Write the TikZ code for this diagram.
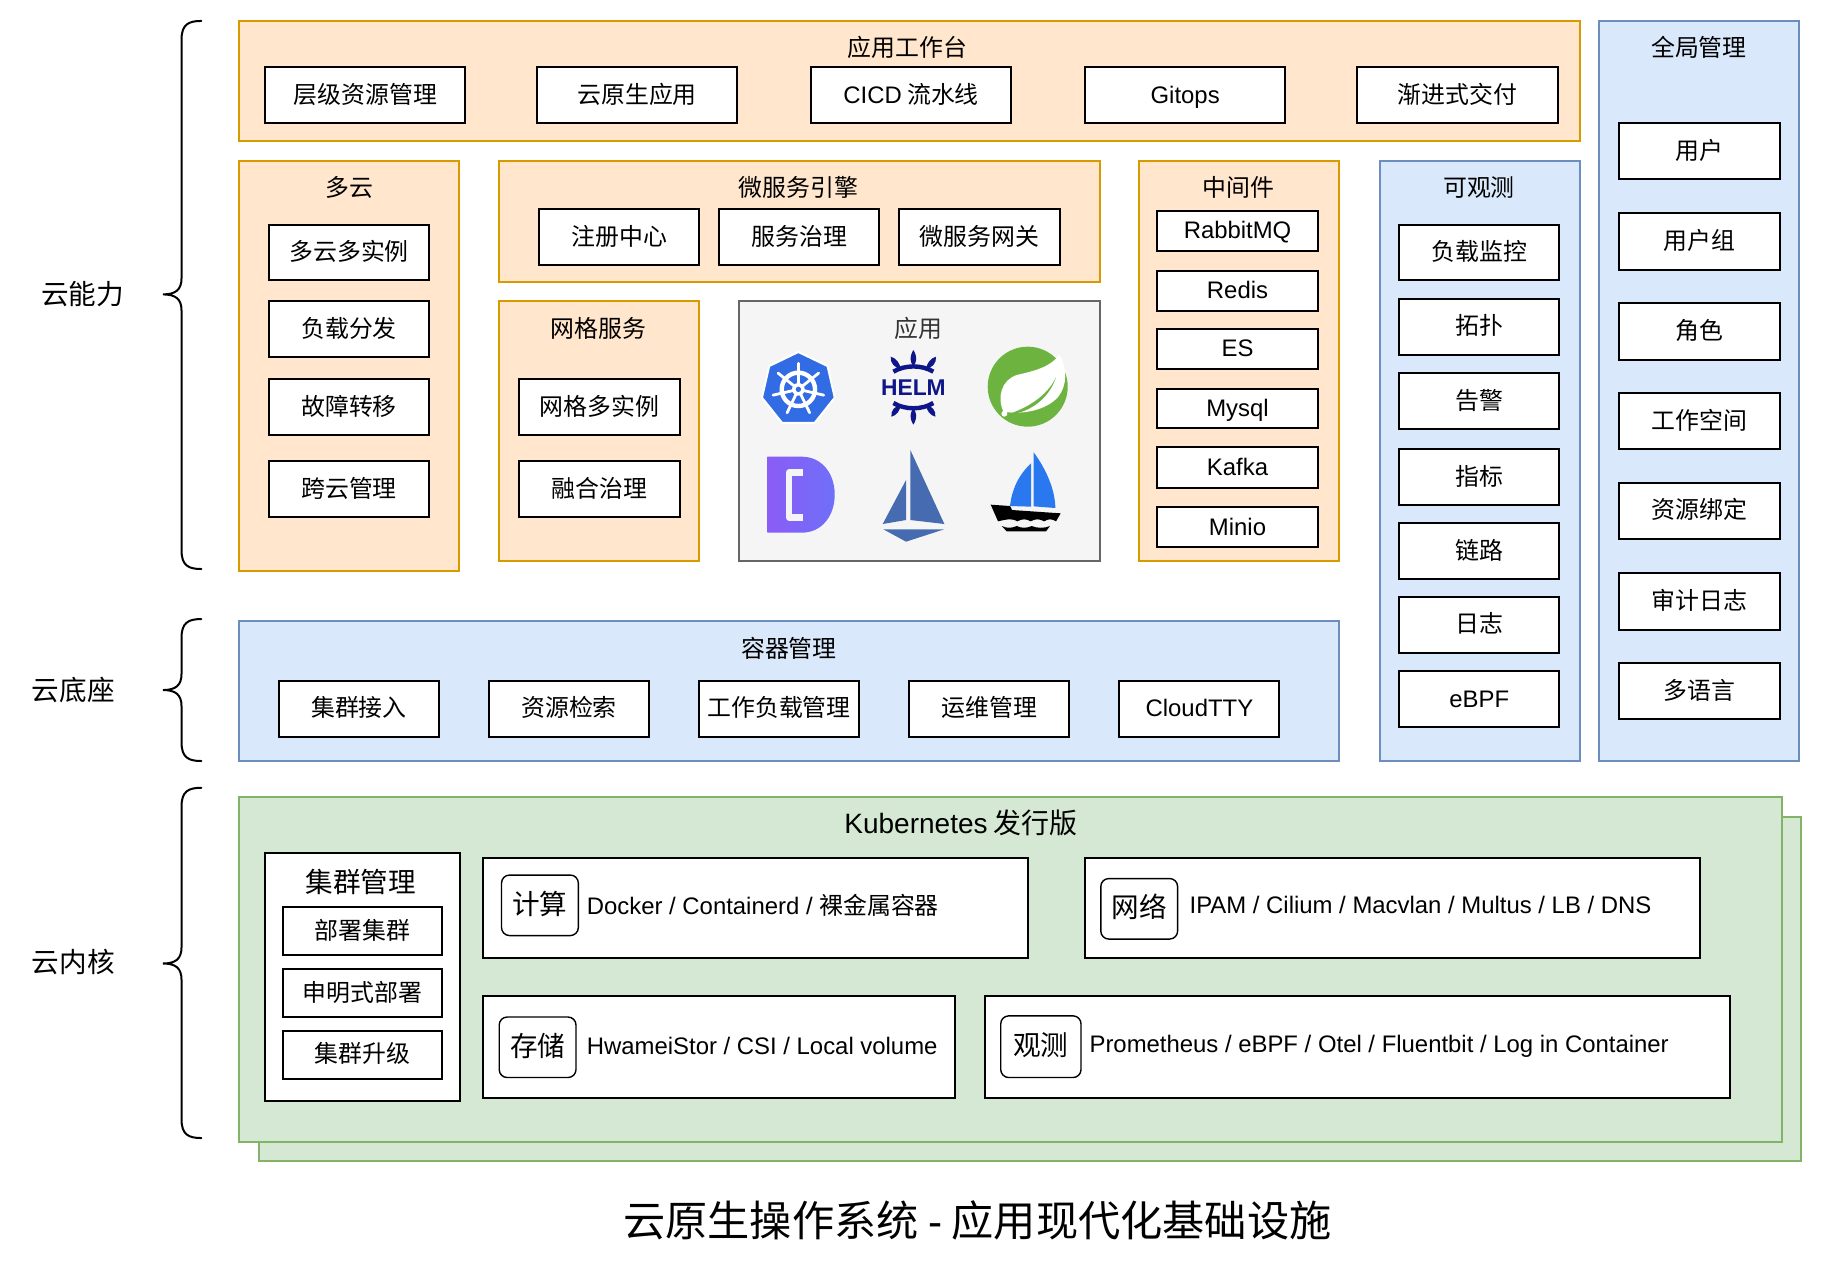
\documentclass[tikz,border=0pt]{standalone}
\usepackage{fontspec}
\setmainfont{Liberation Sans}
\newfontfamily\cjk{Noto Sans CJK SC}
\newcommand\szN{\fontsize{11.95}{14.5}\selectfont}
\newcommand\szL{\fontsize{13.8}{16.5}\selectfont}
\newcommand\szT{\fontsize{21.1}{25}\selectfont}
\definecolor{ofill}{HTML}{FFE6CC}\definecolor{ostroke}{HTML}{D79B00}
\definecolor{bfill}{HTML}{DAE8FC}\definecolor{bstroke}{HTML}{6C8EBF}
\definecolor{gfill}{HTML}{D5E8D4}\definecolor{gstroke}{HTML}{82B366}
\definecolor{agfill}{HTML}{F5F5F5}\definecolor{agstroke}{HTML}{666666}
\definecolor{k8sblue}{HTML}{326CE5}\definecolor{helmnavy}{HTML}{0F1689}
\definecolor{springgreen}{HTML}{6DB33F}\definecolor{istioblue}{HTML}{466BB0}
\definecolor{boatblue}{HTML}{2A78F0}\definecolor{dleft}{HTML}{8B5CF6}\definecolor{dright}{HTML}{6F6FF8}
\tikzset{
 orangebox/.style={draw=ostroke,fill=ofill,line width=1pt},
 bluebox/.style={draw=bstroke,fill=bfill,line width=1pt},
 greenbox/.style={draw=gstroke,fill=gfill,line width=1pt},
 graybox/.style={draw=agstroke,fill=agfill,line width=1pt},
 itembox/.style={draw=black,fill=white,line width=1pt,font=\szN\cjk,text height=10.5pt,text depth=2.5pt},
 tagbox/.style={draw=black,fill=white,line width=.7pt,rounded corners=4pt,font=\szL\cjk,text height=12pt,text depth=3pt},
 ttl/.style={inner sep=0,font=\szN\cjk},
 sidelabel/.style={inner sep=0,font=\szL\cjk},
 latlabel/.style={inner sep=0,anchor=west,font=\szN\rmfamily},
 bracepath/.style={draw=black,line width=1pt,line cap=round},
}
\newcommand\bx[7]{\node[#6,anchor=north west,inner sep=0,outer sep=0,minimum width={(#4-#2)*0.58185pt},minimum height={(#5-#3)*0.58185pt}] (#1) at (#2,#3) {#7};}
\newcommand\curly[5]{% name, top, mid, bottom
 \coordinate (#1-tip) at (140,#3);
 \draw[bracepath] (173,#2) .. controls (162,#2) and (156,#2+3) .. (156,#2+16)
   -- (156,#3-14) .. controls (156,#3-4) and (151,#3) .. (#1-tip)
   .. controls (151,#3) and (156,#3+4) .. (156,#3+14)
   -- (156,#4-16) .. controls (156,#4-3) and (162,#4) .. (173,#4);
}
\begin{document}
\begin{tikzpicture}[x=0.58185pt,y=-0.58185pt]
\useasboundingbox (0,0) rectangle (1567.5,1089.7);
\fill[white] (0,0) rectangle (1567.5,1089.7);

% Braces and side labels
\curly{bA}{18}{253}{489}{}
\curly{bB}{532}{593}{654}{}
\curly{bC}{677}{828}{978}{}
\node[sidelabel] (lA) at (71,253) {云能力};
\node[sidelabel] (lB) at (63,593) {云底座};
\node[sidelabel] (lC) at (63,827) {云内核};

% Application workbench
\bx{wb}{205}{18}{1357.5}{121}{orangebox}{}
\node[ttl] (wbT) at (780,41) {应用工作台};
\bx{wb1}{228}{58}{400}{106}{itembox}{层级资源管理}
\bx{wb2}{461.5}{58}{633.5}{106}{itembox}{云原生应用}
\bx{wb3}{697}{58}{869}{106}{itembox}{{\rmfamily CICD} 流水线}
\bx{wb4}{932.5}{58}{1104.5}{106}{itembox}{\rmfamily Gitops}
\bx{wb5}{1166.5}{58}{1338.5}{106}{itembox}{渐进式交付}

% Global management
\bx{gm}{1374.2}{18}{1546.4}{654}{bluebox}{}
\node[ttl] (gmT) at (1460,41) {全局管理};
\bx{gm1}{1391.5}{106}{1529.3}{154}{itembox}{用户}
\bx{gm2}{1391.5}{183}{1529.3}{232}{itembox}{用户组}
\bx{gm3}{1391.5}{260.5}{1529.3}{309}{itembox}{角色}
\bx{gm4}{1391.5}{338}{1529.3}{386}{itembox}{工作空间}
\bx{gm5}{1391.5}{415}{1529.3}{463}{itembox}{资源绑定}
\bx{gm6}{1391.5}{492.5}{1529.3}{541}{itembox}{审计日志}
\bx{gm7}{1391.5}{570}{1529.3}{618}{itembox}{多语言}

% Multicloud
\bx{mc}{205}{138}{394.5}{491}{orangebox}{}
\node[ttl] (mcT) at (300,161) {多云};
\bx{mc1}{231}{193}{369}{241}{itembox}{多云多实例}
\bx{mc2}{231}{259}{369}{307}{itembox}{负载分发}
\bx{mc3}{231}{326}{369}{374}{itembox}{故障转移}
\bx{mc4}{231}{396.5}{369}{444.5}{itembox}{跨云管理}

% Microservice engine
\bx{ms}{429}{138}{945}{242}{orangebox}{}
\node[ttl] (msT) at (686,161) {微服务引擎};
\bx{ms1}{463.5}{180}{601}{228}{itembox}{注册中心}
\bx{ms2}{618}{180}{755.5}{228}{itembox}{服务治理}
\bx{ms3}{772.5}{180}{910.5}{228}{itembox}{微服务网关}

% Service mesh
\bx{sm}{429}{259}{601}{482}{orangebox}{}
\node[ttl] (smT) at (514,282) {网格服务};
\bx{sm1}{446}{326}{584}{374}{itembox}{网格多实例}
\bx{sm2}{446}{396.5}{584}{444.5}{itembox}{融合治理}

% Applications
\bx{ap}{635}{259}{945}{482}{graybox}{}
\node[ttl,text={rgb,255:red,51;green,51;blue,51}] (apT) at (789,282) {应用};

% Middleware
\bx{mw}{979}{138}{1151}{482}{orangebox}{}
\node[ttl] (mwT) at (1064,161) {中间件};
\tikzset{midfont/.style={itembox,text height=8.5pt,text depth=0.5pt}}
\bx{mw1}{994.5}{181}{1132.5}{216}{midfont}{\rmfamily RabbitMQ}
\bx{mw2}{994.5}{233}{1132.5}{267}{midfont}{\rmfamily Redis}
\bx{mw3}{994.5}{282.5}{1132.5}{317}{midfont}{\rmfamily ES}
\bx{mw4}{994.5}{334}{1132.5}{368}{midfont}{\rmfamily Mysql}
\bx{mw5}{994.5}{384}{1132.5}{419}{midfont}{\rmfamily Kafka}
\bx{mw6}{994.5}{436}{1132.5}{470}{midfont}{\rmfamily Minio}

% Observability
\bx{ob}{1185.5}{138}{1357.5}{654}{bluebox}{}
\node[ttl] (obT) at (1271,161) {可观测};
\bx{ob1}{1202.5}{193}{1340}{241}{itembox}{负载监控}
\bx{ob2}{1202.5}{257}{1340}{305}{itembox}{拓扑}
\bx{ob3}{1202.5}{320.5}{1340}{369}{itembox}{告警}
\bx{ob4}{1202.5}{386}{1340}{434}{itembox}{指标}
\bx{ob5}{1202.5}{449.5}{1340}{498}{itembox}{链路}
\bx{ob6}{1202.5}{513}{1340}{561}{itembox}{日志}
\bx{ob7}{1202.5}{577}{1340}{625}{itembox}{\rmfamily eBPF}

% Container management
\bx{cm}{205}{534}{1151}{654}{bluebox}{}
\node[ttl] (cmT) at (678,557) {容器管理};
\bx{cm1}{240}{585}{377}{633}{itembox}{集群接入}
\bx{cm2}{420}{585}{558}{633}{itembox}{资源检索}
\bx{cm3}{601}{585}{738}{633}{itembox}{工作负载管理}
\bx{cm4}{781}{585}{919}{633}{itembox}{运维管理}
\bx{cm5}{962}{585}{1099.5}{633}{itembox}{\rmfamily CloudTTY}

% Kubernetes distribution
\bx{kb}{222.5}{702}{1548}{998}{greenbox}{}
\bx{kf}{205}{685}{1531}{981}{greenbox}{}
\node[ttl,font=\fontsize{14}{16}\selectfont\cjk] (kfT) at (826,707) {{\rmfamily Kubernetes} 发行版};

\bx{cl}{228}{733}{395}{946}{itembox}{}
\node[ttl,font=\szL\cjk] (clT) at (310,758) {集群管理};
\bx{cl1}{243}{779.5}{380}{821}{itembox}{部署集群}
\bx{cl2}{243}{833}{380}{874}{itembox}{申明式部署}
\bx{cl3}{243}{886}{380}{927}{itembox}{集群升级}

\bx{cp}{415}{737}{883}{823}{itembox}{}
\bx{cpT}{431}{752}{497}{804}{tagbox}{计算}
\node[latlabel] (cpL) at (504,778) {Docker / Containerd / {\cjk 裸金属容器}};
\bx{nw}{932.5}{737}{1460.5}{823}{itembox}{}
\bx{nwT}{946}{755}{1012}{807}{tagbox}{网络}
\node[latlabel] (nwL) at (1022,778) {IPAM / Cilium / Macvlan / Multus / LB / DNS};
\bx{st}{415}{856}{821}{944}{itembox}{}
\bx{stT}{429}{874}{495}{926}{tagbox}{存储}
\node[latlabel] (stL) at (504,899) {HwameiStor / CSI / Local volume};
\bx{os}{846.5}{856}{1486.5}{944}{itembox}{}
\bx{osT}{860}{873}{929}{926}{tagbox}{观测}
\node[latlabel] (osL) at (936,899) {Prometheus / eBPF / Otel / Fluentbit / Log in Container};

% Title
\node[inner sep=0,font=\szT\cjk] (title) at (840,1049) {云原生操作系统 {\rmfamily -} 应用现代化基础设施};

% Icons, in the coordinates of a 3x crop at (730,300)
\begin{scope}[shift={(730*1.1637/1.35405,300*1.1637/1.35405)},x=0.16667pt,y=-0.16667pt]
 % Kubernetes
 \begin{scope}[shift={(205,268)},y=0.16667pt]
  \fill[k8sblue,draw=white,line width=1pt,line join=round]
    (90:112) -- (38.6:112) -- (-12.9:112) -- (-64.3:112) -- (-115.7:112) -- (-167.1:112) -- (141.4:112) -- cycle;
  \draw[white,line width=2.2pt] (0,0) circle (50);
  \foreach \a in {90,38.6,-12.9,-64.3,-115.7,-167.1,141.4}
    \draw[white,line width=1.4pt,line cap=round] (\a:10) -- (\a:78);
  \fill[white] (0,0) circle (19);
  \fill[k8sblue] (0,0) circle (8);
 \end{scope}
 % Helm
 \begin{scope}[shift={(550,262)},helmnavy]
  \draw[line width=2.2pt] (-60,-47) .. controls (-25,-68) and (25,-68) .. (60,-47);
  \draw[line width=2.2pt] (-60,47) .. controls (-25,68) and (25,68) .. (60,47);
  \fill (0,-112) .. controls (13,-90) and (10,-78) .. (0,-62) .. controls (-10,-78) and (-13,-90) .. (0,-112);
  \fill (0,112) .. controls (13,90) and (10,78) .. (0,62) .. controls (-10,78) and (-13,90) .. (0,112);
  \fill (-68,-92) .. controls (-70,-72) and (-55,-58) .. (-38,-55) .. controls (-40,-72) and (-52,-88) .. (-68,-92);
  \fill (68,-92) .. controls (70,-72) and (55,-58) .. (38,-55) .. controls (40,-72) and (52,-88) .. (68,-92);
  \fill (-66,88) .. controls (-68,68) and (-55,56) .. (-38,53) .. controls (-40,70) and (-50,84) .. (-66,88);
  \fill (66,88) .. controls (68,68) and (55,56) .. (38,53) .. controls (40,70) and (50,84) .. (66,88);
  \node[inner sep=0,text=helmnavy,font=\fontsize{11.4}{12}\selectfont\rmfamily\bfseries] (helm) at (0,0) {HELM};
 \end{scope}
 % Spring
 \fill[springgreen] (893,260) circle (120);
 \fill[white] (988,163) .. controls (960,205) and (900,215) .. (860,225)
   .. controls (815,240) and (800,290) .. (820,335)
   .. controls (880,345) and (950,330) .. (985,290)
   .. controls (1012,255) and (1012,205) .. (988,163) -- cycle;
 \fill[springgreen] (828,345) .. controls (890,325) and (950,290) .. (978,232)
   .. controls (955,300) and (895,340) .. (828,345) -- cycle;
 \fill[white] (823,341) circle (9);
 % D logo
 \shade[left color=dleft,right color=dright]
   (112,470) -- (215,470) .. controls (275,470) and (314,520) .. (314,584)
   .. controls (314,648) and (275,698) .. (215,698) -- (112,698) -- cycle;
 \draw[agfill,line width=3.3pt,line join=round] (220,518) -- (177,518) -- (177,652) -- (220,652);
 % Istio
 \fill[istioblue] (541,450) -- (643,672) -- (541,660) -- cycle;
 \fill[istioblue] (528,540) -- (528,660) -- (458,672) -- cycle;
 \fill[istioblue] (460,688) -- (642,688) -- (528,725) -- cycle;
 % Boat
 \fill[boatblue] (911,457) .. controls (950,510) and (975,570) .. (976,624) -- (911,619) -- cycle;
 \fill[boatblue] (903,490) .. controls (865,525) and (845,570) .. (840,618) -- (903,620) -- cycle;
 \fill[black] (782,614) -- (840,618) -- (846,630) -- (992,640) -- (978,664)
   .. controls (965,656) and (955,656) .. (942,664) .. controls (930,656) and (915,656) .. (902,664)
   .. controls (890,656) and (875,656) .. (862,664) .. controls (850,656) and (835,656) .. (804,664) -- cycle;
 \fill[black] (815,678) .. controls (830,685) and (845,685) .. (860,678)
   .. controls (875,685) and (890,685) .. (905,678) .. controls (920,685) and (945,685) .. (960,678)
   -- (948,694) -- (830,694) -- cycle;
\end{scope}
\end{tikzpicture}
\end{document}
